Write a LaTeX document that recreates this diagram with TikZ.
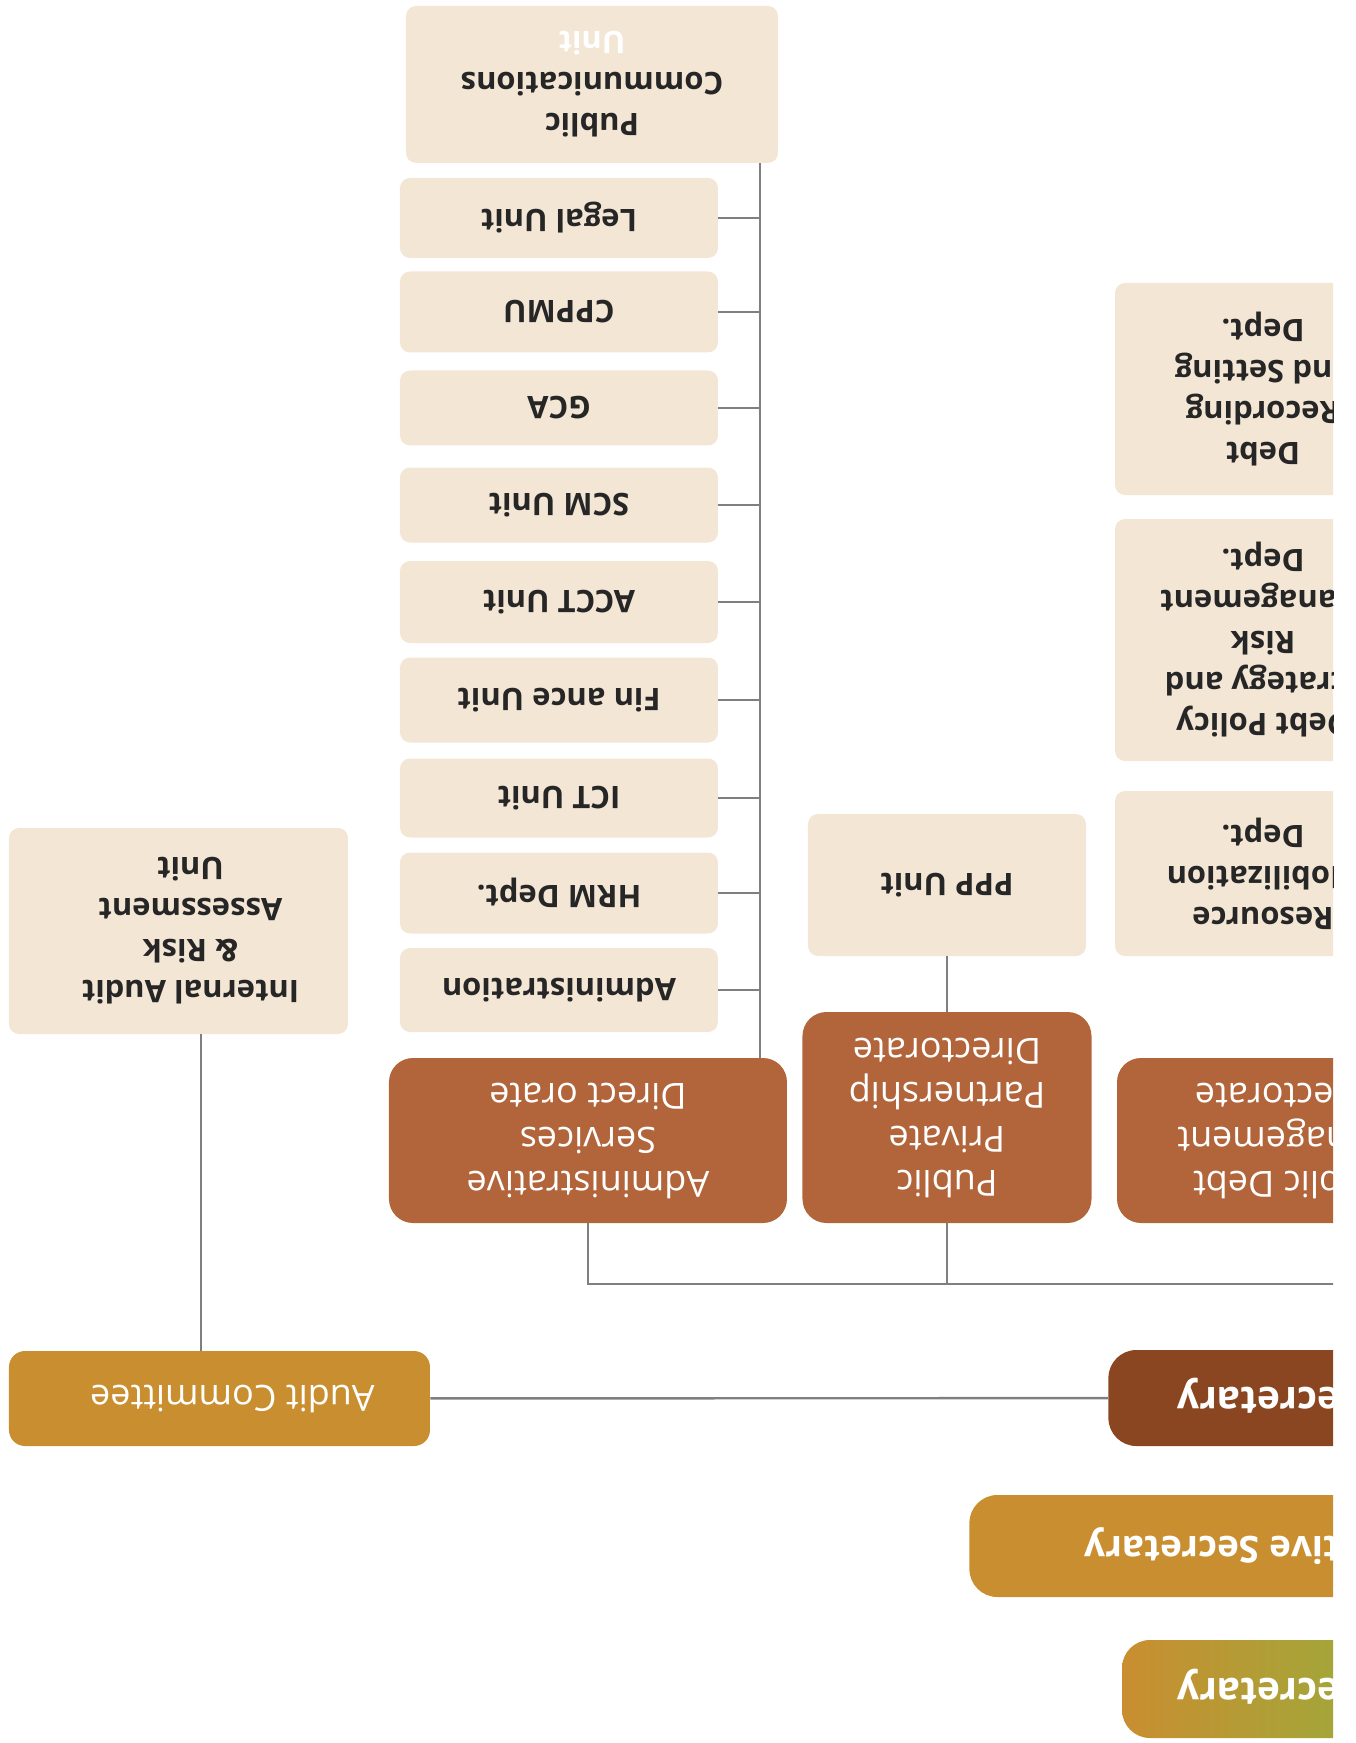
\documentclass[tikz,border=0pt]{standalone}
\usepackage{fontspec}
\setmainfont{Open Sans}

\definecolor{unitfill}{HTML}{F3E6D5}
\definecolor{dirfill}{HTML}{B2653B}
\definecolor{psfill}{HTML}{8A4621}
\definecolor{goldfill}{HTML}{C98E30}
\definecolor{olivefill}{HTML}{A0A83A}
\definecolor{linkgray}{HTML}{7F7F7F}
\definecolor{unittext}{HTML}{262626}

\tikzset{
  unitbox/.style={fill=unitfill, rounded corners=5pt, text=unittext, align=center, inner sep=0pt,
    font=\fontsize{15.5}{20.5}\selectfont\bfseries},
  dirbox/.style={fill=dirfill, rounded corners=12pt, text=white, align=center, inner sep=0pt,
    font=\fontsize{18}{22}\selectfont},
  secbox/.style={rounded corners=14pt, text=white, inner ysep=0pt, anchor=east,
    font=\fontsize{19.5}{22}\selectfont\bfseries},
  link/.style={draw=linkgray, line width=1.2pt},
}

\begin{document}
\begin{tikzpicture}[x=0.5pt, y=0.5pt, rotate=180, transform shape]
\useasboundingbox (0,0) rectangle (1355,1743);
\clip (22,0) rectangle (1355,1743);

% top of the chart
\shade[left color=goldfill, right color=olivefill, rounded corners=14pt] (-6,1640) rectangle (233,1738);
\node[secbox, minimum height=49pt, inner xsep=27.5pt] (cs) at (233,1689) {Cabinet Secretary};
\node[secbox, fill=goldfill, minimum height=51pt, inner xsep=57.5pt, font=\fontsize{18.5}{22}\selectfont\bfseries] (cas) at (386,1546) {Chief Administrative Secretary};
\node[secbox, fill=psfill, minimum height=48pt, inner xsep=34.5pt] (ps) at (247,1398) {Principal Secretary};
\node[fill=goldfill, rounded corners=8pt, text=white, inner sep=0pt, minimum width=210.5pt, minimum height=47.5pt,
  font=\fontsize{18}{22}\selectfont] (audit) at (1135.5,1398.5) {Audit Committee\kern13pt};
\node[unitbox, minimum width=169.5pt, minimum height=103pt] (iaru) at (1176.5,931)
  {Internal Audit\kern12pt\\\& Risk\kern12pt\\Assessment\kern12pt\\Unit\kern12pt};

% directorates
\node[dirbox, minimum width=199pt, minimum height=82.5pt] (adminsvc) at (767,1140.5) {Administrative\\Services\\Direct orate};
\node[dirbox, minimum width=144.5pt, minimum height=105.5pt] (pppdir) at (408,1117.5) {Public\\Private\\Partnership\\Directorate};
\node[dirbox, minimum width=172pt, minimum height=82.5pt] (pdmdir) at (66,1140.5) {Public Debt\\Management\\Directorate};

% units under the directorates
\node[unitbox, minimum width=139pt, minimum height=71pt] (pppunit) at (408,885) {PPP Unit};
\node[unitbox, minimum width=148pt, minimum height=82.5pt] (resmob) at (92,873.5) {Resource\\Mobilization\\Dept.};
\node[unitbox, minimum width=148pt, minimum height=121pt] (debtpol) at (92,640) {Debt Policy\\Strategy and\\Risk\\Management\\Dept.};
\node[unitbox, minimum width=148pt, minimum height=106pt] (debtrec) at (92,389) {Debt\\Recording\\and Setting\\Dept.};

\node[unitbox, minimum width=159pt, minimum height=42pt] (admin) at (796,990) {Administration};
\node[unitbox, minimum width=159pt, minimum height=40.5pt] (hrm) at (796,893) {HRM Dept.};
\node[unitbox, minimum width=159pt, minimum height=39.5pt] (ict) at (796,798) {ICT Unit};
\node[unitbox, minimum width=159pt, minimum height=42.5pt] (fin) at (796,700) {Fin ance Unit};
\node[unitbox, minimum width=159pt, minimum height=41pt] (acct) at (796,602) {ACCT Unit};
\node[unitbox, minimum width=159pt, minimum height=37.5pt] (scm) at (796,505) {SCM Unit};
\node[unitbox, minimum width=159pt, minimum height=37.5pt] (gca) at (796,408) {GCA};
\node[unitbox, minimum width=159pt, minimum height=40.5pt] (cppmu) at (796,312) {CPPMU};
\node[unitbox, minimum width=159pt, minimum height=40pt] (legal) at (796,218) {Legal Unit};
\node[unitbox, minimum width=186pt, minimum height=78.5pt] (pubcomm) at (763,84.5) {Public\\Communications\\\textcolor{white}{Unit}};

% connectors
\coordinate (spine) at (595,0);
\coordinate (auditx) at (1154,0);
\coordinate (busend) at (-60,1284);

\draw[link] (ps) -- (audit);
\draw[link] (audit.south -| auditx) -- (iaru.north -| auditx);
\draw[link] (adminsvc) |- (busend);
\draw[link] (pppdir) -- (pppdir |- busend);
\draw[link] (pppdir) -- (pppunit);
\draw[link] (adminsvc.south -| spine) -- (pubcomm.north -| spine);
\foreach \u in {legal,cppmu,gca,scm,acct,fin,ict,hrm,admin}
  \draw[link] (\u) -- (\u -| spine);
\end{tikzpicture}
\end{document}
